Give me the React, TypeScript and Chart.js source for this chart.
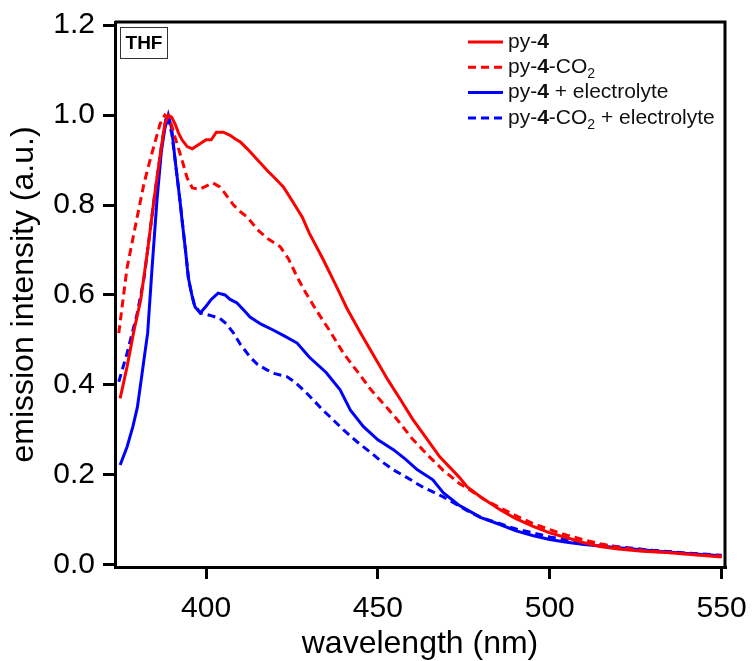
import React, { useEffect, useRef } from "react";
import { Chart, registerables } from "chart.js";

Chart.register(...registerables);

// ---- data ----
const redSolidX = [375, 377, 379, 381, 383, 385, 387, 388, 389, 390, 391, 392, 393, 394.5, 396, 398, 400, 401.5, 403, 405, 407, 408.5, 410, 412, 415, 418, 420, 422.5, 425, 428, 430, 434, 438, 441, 445, 450, 453, 456.6, 460, 464.4, 468, 473.5, 476, 480, 485.7, 490, 495, 500, 505, 510, 515, 520, 527, 534, 542, 550];
const redSolidY = [0.37, 0.44, 0.52, 0.59, 0.70, 0.82, 0.93, 0.98, 1.0, 0.995, 0.98, 0.96, 0.945, 0.93, 0.925, 0.935, 0.945, 0.945, 0.962, 0.962, 0.955, 0.947, 0.94, 0.925, 0.90, 0.875, 0.86, 0.84, 0.81, 0.773, 0.738, 0.68, 0.618, 0.57, 0.515, 0.449, 0.41, 0.367, 0.325, 0.278, 0.24, 0.196, 0.173, 0.15, 0.122, 0.103, 0.086, 0.071, 0.06, 0.049, 0.04, 0.035, 0.03, 0.027, 0.022, 0.017];

const redDashX = [374.6, 377, 380, 382, 383.7, 386.6, 388, 389.5, 391, 393, 394.5, 396, 398, 400, 402, 404, 405.5, 408, 410, 412, 415, 418, 421.6, 424, 426.5, 429, 432, 436, 440, 444, 448, 452, 455.7, 460, 465, 469, 473.5, 477, 481, 486, 490.7, 495, 500, 505, 510, 515, 520, 527, 535, 542, 550];
const redDashY = [0.515, 0.66, 0.775, 0.85, 0.90, 0.98, 1.0, 0.99, 0.95, 0.90, 0.86, 0.838, 0.835, 0.842, 0.849, 0.84, 0.826, 0.80, 0.785, 0.773, 0.745, 0.725, 0.707, 0.68, 0.64, 0.605, 0.567, 0.52, 0.47, 0.43, 0.389, 0.355, 0.322, 0.28, 0.24, 0.21, 0.182, 0.165, 0.145, 0.125, 0.107, 0.092, 0.078, 0.066, 0.055, 0.046, 0.039, 0.032, 0.027, 0.023, 0.019];

const blueSolidX = [375, 377, 378.7, 380, 381, 382, 383, 384.3, 385.7, 387, 388, 389, 390, 391, 392.4, 393, 394, 394.8, 396, 396.8, 398.3, 400, 401.5, 403.5, 405.5, 407, 409, 411, 412.8, 416, 419.5, 423, 426.5, 430, 435, 439, 442, 445.8, 450, 454.5, 458, 461.5, 466, 469, 473.5, 476, 480, 485.7, 490, 495, 500, 505, 510, 520, 530, 540, 550];
const blueSolidY = [0.222, 0.262, 0.307, 0.35, 0.404, 0.46, 0.515, 0.662, 0.81, 0.92, 0.97, 1.0, 0.97, 0.90, 0.81, 0.767, 0.70, 0.64, 0.595, 0.573, 0.56, 0.575, 0.59, 0.604, 0.60, 0.59, 0.582, 0.566, 0.551, 0.535, 0.522, 0.508, 0.493, 0.462, 0.427, 0.389, 0.344, 0.307, 0.278, 0.256, 0.235, 0.211, 0.189, 0.16, 0.133, 0.122, 0.105, 0.089, 0.076, 0.065, 0.056, 0.05, 0.045, 0.038, 0.031, 0.025, 0.02];

const blueDashX = [374.6, 377, 380, 382, 383, 385, 387, 388.5, 390, 391, 392.4, 394, 395, 396.5, 398.3, 401, 404, 406, 408, 410, 412.8, 415, 417.8, 420, 423.6, 426, 428.3, 431, 434, 437, 440, 444, 448, 451, 454.5, 458, 463, 466, 469, 472, 476, 480, 486, 490, 495, 500, 505, 510, 520, 530, 540, 550];
const blueDashY = [0.407, 0.47, 0.56, 0.64, 0.70, 0.82, 0.93, 1.0, 0.96, 0.90, 0.81, 0.70, 0.63, 0.58, 0.56, 0.555, 0.548, 0.535, 0.515, 0.49, 0.462, 0.445, 0.433, 0.425, 0.418, 0.405, 0.389, 0.368, 0.344, 0.322, 0.30, 0.273, 0.249, 0.23, 0.211, 0.196, 0.173, 0.162, 0.151, 0.138, 0.12, 0.105, 0.09, 0.08, 0.071, 0.062, 0.055, 0.048, 0.04, 0.032, 0.026, 0.021];

const xTicks = [400, 450, 500, 550];
const yTicks = [0.0, 0.2, 0.4, 0.6, 0.8, 1.0, 1.2];

const seriesNames = ["py-4", "py-4-CO2", "py-4 + electrolyte", "py-4-CO2 + electrolyte"];
type Seg = { t: string; bold?: boolean; sub?: boolean };
const legendRich: Seg[][] = [
  [{ t: "py-" }, { t: "4", bold: true }],
  [{ t: "py-" }, { t: "4", bold: true }, { t: "-CO" }, { t: "2", sub: true }],
  [{ t: "py-" }, { t: "4", bold: true }, { t: " + electrolyte" }],
  [{ t: "py-" }, { t: "4", bold: true }, { t: "-CO" }, { t: "2", sub: true }, { t: " + electrolyte" }],
];
const solventLabel = "THF";

const RED = "#ff0000";
const BLUE = "#0000ff";
const FONT = "'Liberation Sans', Arial, sans-serif";

const pts = (xs: number[], ys: number[]) => xs.map((x, i) => ({ x, y: ys[i] }));

const overlayPlugin = {
  id: "overlay",
  afterDraw(chart: any) {
    const { ctx, chartArea } = chart;
    ctx.save();
    // frame (top & right)
    ctx.strokeStyle = "#000";
    ctx.lineWidth = 3;
    ctx.beginPath();
    ctx.moveTo(chartArea.left, chartArea.top);
    ctx.lineTo(chartArea.right, chartArea.top);
    ctx.lineTo(chartArea.right, chartArea.bottom);
    ctx.stroke();

    // THF box
    ctx.lineWidth = 1;
    ctx.strokeStyle = "#333";
    ctx.strokeRect(120.5, 27.5, 47, 31);
    ctx.fillStyle = "#000";
    ctx.font = `bold 19px ${FONT}`;
    ctx.textAlign = "center";
    ctx.textBaseline = "middle";
    ctx.fillText(solventLabel, 144, 43.5);

    // legend
    const ds = chart.data.datasets;
    ctx.textAlign = "left";
    for (let i = 0; i < legendRich.length; i++) {
      const y = 42 + i * 25.3;
      ctx.strokeStyle = ds[i].borderColor;
      ctx.lineWidth = 3;
      ctx.setLineDash(ds[i].borderDash || []);
      ctx.beginPath();
      ctx.moveTo(468, y);
      ctx.lineTo(503, y);
      ctx.stroke();
      ctx.setLineDash([]);
      let x = 508;
      ctx.fillStyle = "#111";
      for (const s of legendRich[i]) {
        if (s.sub) {
          ctx.font = `14px ${FONT}`;
          ctx.fillText(s.t, x, y + 7);
        } else {
          ctx.font = `${s.bold ? "bold " : ""}21px ${FONT}`;
          ctx.fillText(s.t, x, y);
        }
        x += ctx.measureText(s.t).width;
      }
    }
    ctx.restore();
  },
};

export default function App() {
  const ref = useRef<HTMLCanvasElement>(null);
  useEffect(() => {
    if (!ref.current) return;
    const chart = new Chart(ref.current, {
      type: "line",
      data: {
        datasets: [
          { label: seriesNames[0], data: pts(redSolidX, redSolidY), borderColor: RED, borderWidth: 3, pointRadius: 0 },
          { label: seriesNames[1], data: pts(redDashX, redDashY), borderColor: RED, borderWidth: 3, borderDash: [8, 5], pointRadius: 0 },
          { label: seriesNames[2], data: pts(blueSolidX, blueSolidY), borderColor: BLUE, borderWidth: 3, pointRadius: 0 },
          { label: seriesNames[3], data: pts(blueDashX, blueDashY), borderColor: BLUE, borderWidth: 3, borderDash: [8, 5], pointRadius: 0 },
        ],
      },
      options: {
        responsive: false,
        animation: false,
        layout: { padding: { left: 0, right: 28, top: 22, bottom: 0 } },
        plugins: { legend: { display: false }, tooltip: { enabled: false } },
        elements: { line: { tension: 0, fill: false } },
        scales: {
          x: {
            type: "linear",
            min: 373.5,
            max: 551,
            afterBuildTicks: (s: any) => {
              s.ticks = xTicks.map((v) => ({ value: v }));
            },
            afterFit: (s: any) => {
              s.height = 94;
              s.paddingLeft = 0;
              s.paddingRight = 0;
            },
            grid: { display: true, drawOnChartArea: false, drawTicks: true, tickLength: 12, color: "#000", lineWidth: 3 },
            border: { display: true, color: "#000", width: 3 },
            ticks: { color: "#000", font: { family: FONT, size: 30 }, padding: 12, maxRotation: 0, autoSkip: false, callback: (v: any) => String(v) },
            title: { display: true, text: "wavelength (nm)", color: "#000", font: { family: FONT, size: 32, lineHeight: 1.05 }, padding: { top: 0, bottom: 0 } },
          },
          y: {
            type: "linear",
            min: -0.005,
            max: 1.207,
            afterBuildTicks: (s: any) => {
              s.ticks = yTicks.map((v) => ({ value: v }));
            },
            afterFit: (s: any) => {
              s.width = 115;
              s.paddingTop = 0;
              s.paddingBottom = 0;
            },
            grid: { display: true, drawOnChartArea: false, drawTicks: true, tickLength: 12, color: "#000", lineWidth: 3 },
            border: { display: true, color: "#000", width: 3 },
            ticks: { color: "#000", font: { family: FONT, size: 30 }, padding: 8, autoSkip: false, callback: (v: any) => Number(v).toFixed(1) },
            title: { display: true, text: "emission intensity (a.u.)", color: "#000", font: { family: FONT, size: 32, lineHeight: 1.05 }, padding: { top: 7, bottom: 0 } },
          },
        },
      },
      plugins: [overlayPlugin],
    } as any);
    return () => chart.destroy();
  }, []);
  return (
    <div style={{ position: "absolute", left: 0, top: 0, width: 753, height: 661, background: "#fff" }}>
      <canvas ref={ref} width={753} height={661} style={{ width: 753, height: 661, display: "block" }} />
    </div>
  );
}
